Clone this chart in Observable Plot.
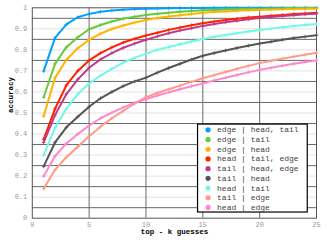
<!DOCTYPE html>
<html><head><meta charset="utf-8">
<script src="https://cdn.jsdelivr.net/npm/d3@7"></script>
<script src="https://cdn.jsdelivr.net/npm/@observablehq/plot@0.6"></script>
<style>body{margin:0;background:#fff}</style>
</head><body><div id="chart"></div>
<script>
const topK = [1,2,3,4,5,6,7,8,9,10,11,12,13,14,15,16,17,18,19,20,21,22,23,24,25];
const seriesNames = ["edge | head, tail","edge | tail","edge | head","head | tail, edge","tail | head, edge","tail | head","head | tail","tail | edge","head | edge"];
const seriesColors = ["#00a0ff","#62cc38","#ffb400","#ff2200","#bf3c8c","#555555","#70f8e8","#ff9a8a","#ff88cc"];
const edgeHeadTail = [0.699,0.857,0.921,0.955,0.971,0.981,0.987,0.991,0.994,0.996,0.997,0.998,0.999,0.999,0.999,1.0,1.0,1.0,1.0,1.0,1.0,1.0,1.0,1.0,1.0];
const edgeTail = [0.575,0.734,0.813,0.860,0.898,0.918,0.935,0.948,0.958,0.966,0.972,0.977,0.981,0.985,0.988,0.990,0.992,0.994,0.995,0.996,0.997,0.998,0.999,0.999,0.999];
const edgeHead = [0.485,0.667,0.753,0.808,0.848,0.877,0.899,0.916,0.930,0.942,0.951,0.959,0.965,0.971,0.976,0.980,0.983,0.986,0.988,0.990,0.992,0.993,0.994,0.995,0.996];
const headTailEdge = [0.375,0.520,0.632,0.700,0.750,0.785,0.812,0.835,0.853,0.868,0.881,0.895,0.906,0.917,0.927,0.935,0.942,0.948,0.954,0.958,0.962,0.966,0.970,0.973,0.976];
const tailHeadEdge = [0.360,0.490,0.590,0.660,0.715,0.755,0.785,0.810,0.830,0.848,0.864,0.879,0.892,0.903,0.914,0.923,0.931,0.938,0.945,0.951,0.956,0.961,0.965,0.969,0.972];
const tailHead = [0.246,0.360,0.432,0.482,0.530,0.570,0.600,0.628,0.650,0.668,0.692,0.714,0.734,0.754,0.772,0.785,0.797,0.809,0.820,0.830,0.839,0.848,0.856,0.863,0.870];
const headTail = [0.300,0.430,0.520,0.590,0.640,0.678,0.710,0.740,0.762,0.782,0.800,0.814,0.827,0.840,0.852,0.862,0.871,0.879,0.887,0.894,0.901,0.907,0.913,0.918,0.923];
const tailEdge = [0.140,0.230,0.290,0.340,0.390,0.435,0.475,0.510,0.545,0.575,0.595,0.613,0.630,0.648,0.665,0.680,0.695,0.710,0.724,0.737,0.748,0.758,0.768,0.777,0.786];
const headEdge = [0.200,0.295,0.355,0.400,0.440,0.475,0.502,0.527,0.548,0.566,0.583,0.598,0.613,0.627,0.640,0.655,0.668,0.681,0.693,0.705,0.715,0.725,0.734,0.742,0.750];
const seriesValues = [edgeHeadTail, edgeTail, edgeHead, headTailEdge, tailHeadEdge, tailHead, headTail, tailEdge, headEdge];
const xTicks = [0,5,10,15,20,25];
const xTickLabels = ["0","5","10","15","20","25"];
const yTicks = [0,0.1,0.2,0.3,0.4,0.5,0.6,0.7,0.8,0.9,1];
const yTickLabels = ["0","0.1","0.2","0.3","0.4","0.5","0.6","0.7","0.8","0.9","1"];
const yMinor = [0.05,0.15,0.25,0.35,0.45,0.55,0.65,0.75,0.85,0.95];
const xMajorGrid = [5,10,15,20];

const rows = [];
seriesNames.forEach((name, s) => topK.forEach((k, i) => rows.push({series: name, k, acc: seriesValues[s][i]})));

// legend placed in data space
const legX0 = 14.58, legX1 = 24.23, legY0 = 0.027, legY1 = 0.445;
const legTop = 0.420, legStep = 0.0461;
const legend = seriesNames.map((name, i) => ({name, y: legTop - legStep * i}));

const mono = "'Liberation Mono', 'DejaVu Sans Mono', monospace";
const color = {domain: seriesNames, range: seriesColors};

const chart = Plot.plot({
  width: 327, height: 246,
  marginLeft: 31.8, marginRight: 11, marginTop: 7.3, marginBottom: 28.3,
  x: {domain: [0, 25]},
  y: {domain: [0, 1]},
  color,
  style: {fontFamily: mono, background: "#fff"},
  marks: [
    Plot.ruleY(yTicks.slice(1, -1), {stroke: "#e2e2e2", strokeWidth: 1}),
    Plot.ruleY(yMinor, {stroke: "#6a6a6a", strokeWidth: 1}),
    Plot.ruleX(xMajorGrid, {stroke: "#6a6a6a", strokeWidth: 1}),
    Plot.frame({stroke: "#555", strokeWidth: 1}),
    Plot.axisX({ticks: xTicks, tickFormat: (d, i) => xTickLabels[i], tickSize: 0, tickPadding: 4, fontSize: 7, fill: "#999", label: null}),
    Plot.axisY({ticks: yTicks, tickFormat: (d, i) => yTickLabels[i], tickSize: 0, tickPadding: 5, fontSize: 7, fill: "#999", label: null}),
    Plot.text(["top - k guesses"], {frameAnchor: "bottom", dy: 15.5, fontSize: 7.5, fontWeight: "bold", fill: "#000"}),
    Plot.text(["accuracy"], {frameAnchor: "left", dx: -22, rotate: -90, fontSize: 7.5, fontWeight: "bold", fill: "#000"}),
    Plot.line(rows, {x: "k", y: "acc", z: "series", stroke: "series", strokeWidth: 2}),
    Plot.dot(rows, {x: "k", y: "acc", stroke: "series", symbol: "plus", r: 1.3, strokeWidth: 0.8}),
    Plot.rect([0], {x1: legX0, x2: legX1, y1: legY0, y2: legY1, fill: "#fff", stroke: "#000", strokeWidth: 1.2}),
    Plot.dot(legend, {x: legX0 + 0.88, y: "y", fill: "name", r: 2.6}),
    Plot.text(legend, {x: legX0 + 1.67, y: "y", text: "name", textAnchor: "start", fontSize: 8, fill: "#444"})
  ]
});
document.getElementById("chart").appendChild(chart);
</script>
</body></html>
